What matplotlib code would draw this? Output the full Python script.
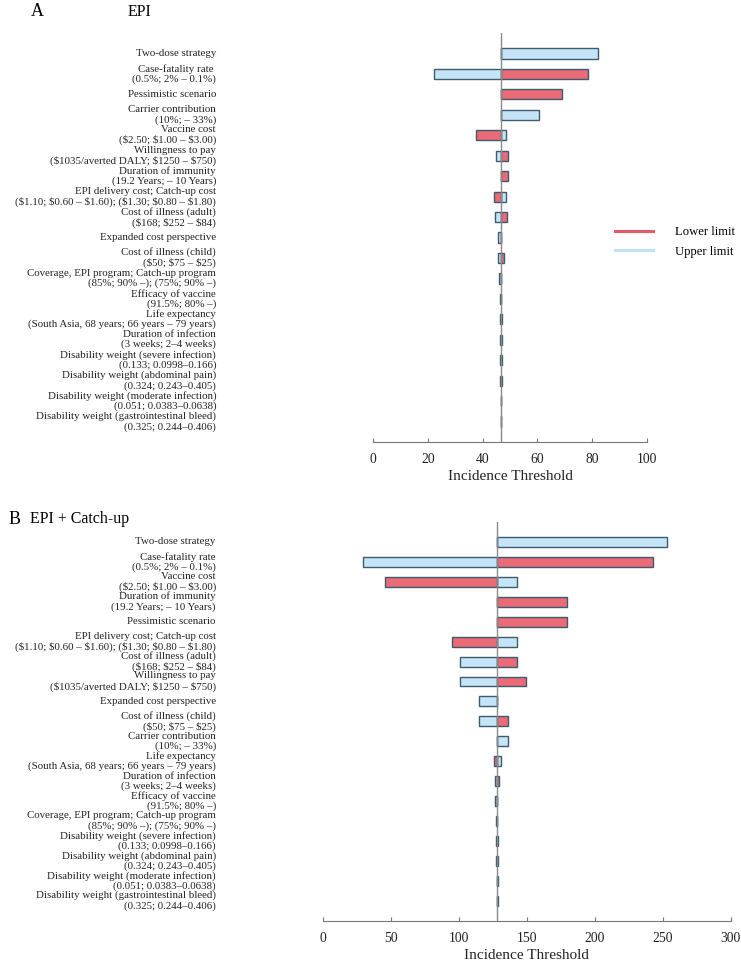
import matplotlib
matplotlib.use("Agg")
import matplotlib.pyplot as plt
from matplotlib.lines import Line2D
import numpy as np

plt.rcParams["font.family"] = ["Liberation Serif", "DejaVu Serif"]

RED = "#ea6b77"
BLUE = "#c6e4f7"
EDGE = "#3e5b6b"

# Panel A: EPI
labels_a = [
    "Two-dose strategy",
    "Case-fatality rate \n(0.5%; 2% – 0.1%)",
    "Pessimistic scenario",
    "Carrier contribution\n(10%; – 33%)",
    "Vaccine cost\n(\\$2.50; \\$1.00 – \\$3.00)",
    "Willingness to pay\n(\\$1035/averted DALY; \\$1250 – \\$750)",
    "Duration of immunity\n(19.2 Years; – 10 Years)",
    "EPI delivery cost; Catch-up cost\n(\\$1.10; \\$0.60 – \\$1.60); (\\$1.30; \\$0.80 – \\$1.80)",
    "Cost of illness (adult)\n(\\$168; \\$252 – \\$84)",
    "Expanded cost perspective",
    "Cost of illness (child)\n(\\$50; \\$75 – \\$25)",
    "Coverage, EPI program; Catch-up program\n(85%; 90% –); (75%; 90% –)",
    "Efficacy of vaccine\n(91.5%; 80% –)",
    "Life expectancy\n(South Asia, 68 years; 66 years – 79 years)",
    "Duration of infection\n(3 weeks; 2–4 weeks)",
    "Disability weight (severe infection)\n(0.133; 0.0998–0.166)",
    "Disability weight (abdominal pain)\n(0.324; 0.243–0.405)",
    "Disability weight (moderate infection)\n(0.051; 0.0383–0.0638)",
    "Disability weight (gastrointestinal bleed)\n(0.325; 0.244–0.406)",
]
base_a = 46.7
lower_a = [46.7, 78.6, 68.9, 46.7, 37.6, 49.2, 49.2, 44.2, 48.9, 46.7,
           47.7, 46.7, 46.2, 47.0, 46.9, 46.9, 46.9, 46.8, 46.8]
upper_a = [82.0, 22.3, 46.7, 60.7, 48.4, 44.8, 46.7, 48.4, 44.4, 45.5,
           45.7, 45.9, 46.7, 46.3, 46.4, 46.5, 46.5, 46.6, 46.6]

# Panel B: EPI + Catch-up
labels_b = [
    "Two-dose strategy",
    "Case-fatality rate\n(0.5%; 2% – 0.1%)",
    "Vaccine cost\n(\\$2.50; \\$1.00 – \\$3.00)",
    "Duration of immunity\n(19.2 Years; – 10 Years)",
    "Pessimistic scenario",
    "EPI delivery cost; Catch-up cost\n(\\$1.10; \\$0.60 – \\$1.60); (\\$1.30; \\$0.80 – \\$1.80)",
    "Cost of illness (adult)\n(\\$168; \\$252 – \\$84)",
    "Willingness to pay\n(\\$1035/averted DALY; \\$1250 – \\$750)",
    "Expanded cost perspective",
    "Cost of illness (child)\n(\\$50; \\$75 – \\$25)",
    "Carrier contribution\n(10%; – 33%)",
    "Life expectancy\n(South Asia, 68 years; 66 years – 79 years)",
    "Duration of infection\n(3 weeks; 2–4 weeks)",
    "Efficacy of vaccine\n(91.5%; 80% –)",
    "Coverage, EPI program; Catch-up program\n(85%; 90% –); (75%; 90% –)",
    "Disability weight (severe infection)\n(0.133; 0.0998–0.166)",
    "Disability weight (abdominal pain)\n(0.324; 0.243–0.405)",
    "Disability weight (moderate infection)\n(0.051; 0.0383–0.0638)",
    "Disability weight (gastrointestinal bleed)\n(0.325; 0.244–0.406)",
]
base_b = 128.4
lower_b = [128.4, 242.6, 46.1, 179.4, 179.4, 95.3, 142.9, 149.7, 128.4, 136.5,
           128.4, 125.7, 129.6, 128.4, 127.2, 129.2, 129.2, 128.7, 128.7]
upper_b = [253.4, 29.4, 142.6, 128.4, 128.4, 142.6, 101.0, 101.0, 114.7, 115.2,
           136.0, 130.9, 126.4, 126.9, 128.4, 127.7, 127.7, 128.1, 128.1]


def tornado(ax, labels, base, lower, upper, xmax, xticks, pad):
    y = np.arange(1, len(labels) + 1)
    ax.barh(y, np.array(upper) - base, left=base, height=0.5, color=BLUE,
            edgecolor=EDGE, linewidth=1.0, zorder=2)
    ax.barh(y, np.array(lower) - base, left=base, height=0.5, color=RED,
            edgecolor=EDGE, linewidth=1.0, zorder=2)
    ax.axvline(base, color="#8a8a8a", linewidth=1.0, zorder=3)
    ax.set_ylim(20, 0)
    ax.set_xlim(0, xmax)
    ax.set_yticks(y)
    ax.set_yticklabels(labels, fontsize=7.8, linespacing=1.1, va="center",
                       color="#222222")
    ax.tick_params(axis="y", length=0, pad=pad)
    ax.set_xticks(xticks)
    ax.tick_params(axis="x", direction="in", length=3, color="#777777",
                   labelsize=9.8, pad=8, labelcolor="#222222")
    for s in ["top", "right", "left"]:
        ax.spines[s].set_visible(False)
    ax.spines["bottom"].set_color("#777777")
    ax.set_xlabel("Incidence Threshold", fontsize=11, labelpad=3,
                  color="#222222")


fig = plt.figure(figsize=(7.41, 9.63), dpi=100)

ax_a = fig.add_axes([0.5034, 0.5410, 0.3698, 0.4247])
tornado(ax_a, labels_a, base_a, lower_a, upper_a, 100, [0, 20, 40, 60, 80, 100], 113)

ax_b = fig.add_axes([0.4355, 0.0439, 0.5506, 0.4140])
tornado(ax_b, labels_b, base_b, lower_b, upper_b, 300, [0, 50, 100, 150, 200, 250, 300], 77)

fig.text(37 / 741, 1 - 12 / 963, "A", fontsize=13, ha="center", va="center")
fig.text(128 / 741, 1 - 12 / 963, "EPI", fontsize=11.5, ha="left", va="center")
fig.text(15 / 741, 1 - 519 / 963, "B", fontsize=13, ha="center", va="center")
fig.text(30 / 741, 1 - 519 / 963, "EPI + Catch-up", fontsize=11.5, ha="left",
         va="center")

handles = [Line2D([], [], color="#e35a68", linewidth=2.2),
           Line2D([], [], color="#bfe2f6", linewidth=2.2)]
fig.legend(handles, ["Lower limit", "Upper limit"], loc="upper left",
           bbox_to_anchor=(615 / 741, 1 - 226 / 963), frameon=False,
           fontsize=9.1, handlelength=3.0, handletextpad=1.75,
           labelspacing=0.6, borderpad=0, borderaxespad=0)

fig.savefig("out.png", dpi=100)
